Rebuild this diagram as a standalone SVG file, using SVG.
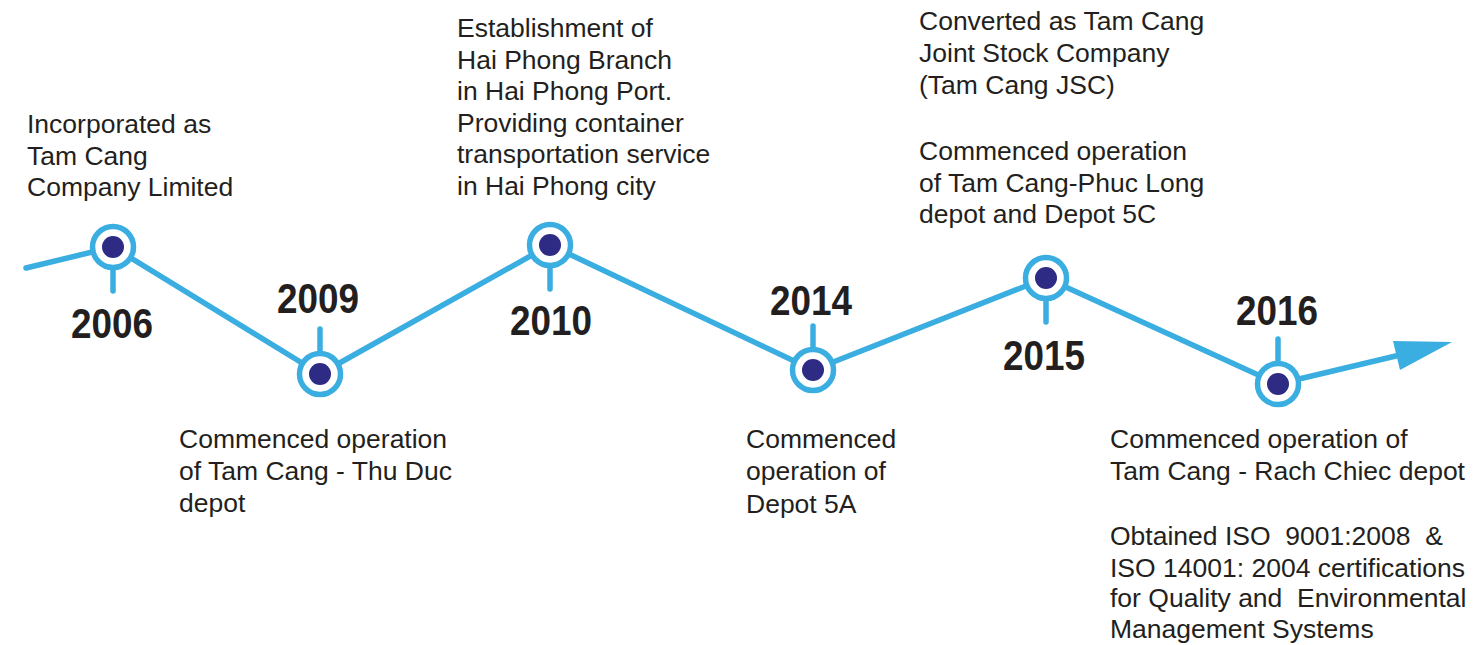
<svg xmlns="http://www.w3.org/2000/svg" width="1474" height="645" viewBox="0 0 1474 645">
<style>
.ln{fill:none;stroke:#3aade1;stroke-width:5.5;stroke-linecap:round;stroke-linejoin:round}
.ring{fill:#fff;stroke:#3aade1;stroke-width:5.5}
.dot{fill:#2e2b85}
.t{font-family:"Liberation Sans",Arial,sans-serif;font-size:26.5px;fill:#231f20}
.y{font-family:"Liberation Sans",Arial,sans-serif;font-size:42px;font-weight:bold;fill:#231f20;text-anchor:middle}
</style>
<rect width="1474" height="645" fill="#fff"/>
<g id="connectors">
<polyline class="ln" points="26,268 113,247 320,374 550,245 813,370 1046,278 1278,384 1400,355"/>
<line class="ln" x1="113" y1="262" x2="113" y2="291"/>
<line class="ln" x1="320" y1="358" x2="320" y2="329"/>
<line class="ln" x1="550" y1="260" x2="550" y2="289"/>
<line class="ln" x1="813" y1="355" x2="813" y2="326"/>
<line class="ln" x1="1046" y1="293" x2="1046" y2="322"/>
<line class="ln" x1="1278" y1="368" x2="1278" y2="339"/>
<polygon points="1393,341 1452,342 1400,370" fill="#3aade1"/>
</g>
<g id="n2006">
<circle class="ring" cx="113" cy="247" r="20.5"/><circle class="dot" cx="113" cy="247" r="11"/>
<text class="y" x="112" y="338" textLength="82" lengthAdjust="spacingAndGlyphs">2006</text>
<text class="t" x="27" y="133">Incorporated as</text>
<text class="t" x="27" y="165">Tam Cang</text>
<text class="t" x="27" y="196">Company Limited</text>
</g>
<g id="n2009">
<circle class="ring" cx="320" cy="374" r="20.5"/><circle class="dot" cx="320" cy="374" r="11"/>
<text class="y" x="318" y="313" textLength="82" lengthAdjust="spacingAndGlyphs">2009</text>
<text class="t" x="179" y="448">Commenced operation</text>
<text class="t" x="179" y="480">of Tam Cang - Thu Duc</text>
<text class="t" x="179" y="512">depot</text>
</g>
<g id="n2010">
<circle class="ring" cx="550" cy="245" r="20.5"/><circle class="dot" cx="550" cy="245" r="11"/>
<text class="y" x="551" y="335" textLength="82" lengthAdjust="spacingAndGlyphs">2010</text>
<text class="t" x="457" y="37">Establishment of</text>
<text class="t" x="457" y="68.6">Hai Phong Branch</text>
<text class="t" x="457" y="100.2">in Hai Phong Port.</text>
<text class="t" x="457" y="131.8">Providing container</text>
<text class="t" x="457" y="163.4">transportation service</text>
<text class="t" x="457" y="195">in Hai Phong city</text>
</g>
<g id="n2014">
<circle class="ring" cx="813" cy="370" r="20.5"/><circle class="dot" cx="813" cy="370" r="11"/>
<text class="y" x="811" y="315" textLength="82" lengthAdjust="spacingAndGlyphs">2014</text>
<text class="t" x="746" y="448">Commenced</text>
<text class="t" x="746" y="480">operation of</text>
<text class="t" x="746" y="513">Depot 5A</text>
</g>
<g id="n2015">
<circle class="ring" cx="1046" cy="278" r="20.5"/><circle class="dot" cx="1046" cy="278" r="11"/>
<text class="y" x="1044" y="370" textLength="82" lengthAdjust="spacingAndGlyphs">2015</text>
<text class="t" x="919" y="30">Converted as Tam Cang</text>
<text class="t" x="919" y="62">Joint Stock Company</text>
<text class="t" x="919" y="94">(Tam Cang JSC)</text>
<text class="t" x="919" y="160">Commenced operation</text>
<text class="t" x="919" y="192">of Tam Cang-Phuc Long</text>
<text class="t" x="919" y="223">depot and Depot 5C</text>
</g>
<g id="n2016">
<circle class="ring" cx="1278" cy="384" r="20.5"/><circle class="dot" cx="1278" cy="384" r="11"/>
<text class="y" x="1277" y="325" textLength="82" lengthAdjust="spacingAndGlyphs">2016</text>
<text class="t" x="1110" y="448">Commenced operation of</text>
<text class="t" x="1110" y="480">Tam Cang - Rach Chiec depot</text>
<text class="t" x="1110" y="545" xml:space="preserve">Obtained ISO  9001:2008  &amp;</text>
<text class="t" x="1110" y="577">ISO 14001: 2004 certifications</text>
<text class="t" x="1110" y="607" xml:space="preserve">for Quality and  Environmental</text>
<text class="t" x="1110" y="638">Management Systems</text>
</g>
</svg>
